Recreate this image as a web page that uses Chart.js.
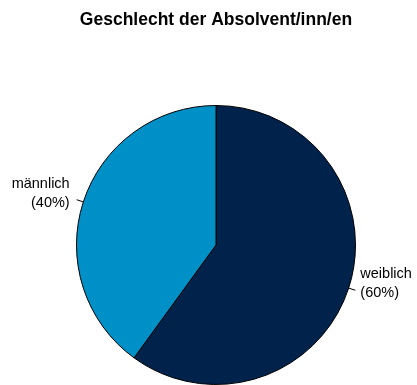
<!DOCTYPE html>
<html>
<head>
<meta charset="utf-8">
<script src="https://cdn.jsdelivr.net/npm/chart.js@4/dist/chart.umd.min.js"></script>
<style>
  html, body { margin: 0; padding: 0; background: #fff; }
  #wrap { width: 417px; height: 385px; }
</style>
</head>
<body>
<div id="wrap"><canvas id="chart"></canvas></div>
<script>
const categories = ['weiblich', 'männlich'];
const shares = [60, 40];
const sliceColors = ['#00224B', '#0090C8'];

// Beschriftung mit kurzer Führungslinie neben jedem Segment
const sliceLabels = {
    id: 'sliceLabels',
    afterDatasetsDraw(chart) {
        const ctx = chart.ctx;
        const meta = chart.getDatasetMeta(0);
        ctx.save();
        ctx.font = '14.5px "Liberation Sans", Arial, sans-serif';
        ctx.fillStyle = '#000';
        ctx.strokeStyle = '#000';
        ctx.lineWidth = 1;
        ctx.textBaseline = 'middle';
        meta.data.forEach((arc, i) => {
            const p = arc.getProps(['x', 'y', 'startAngle', 'endAngle', 'outerRadius'], true);
            const mid = (p.startAngle + p.endAngle) / 2;
            const cos = Math.cos(mid), sin = Math.sin(mid);
            const x0 = p.x + cos * p.outerRadius;
            const y0 = p.y + sin * p.outerRadius;
            const x1 = p.x + cos * (p.outerRadius + 7);
            const y1 = p.y + sin * (p.outerRadius + 7);
            ctx.beginPath();
            ctx.moveTo(x0, y0);
            ctx.lineTo(x1, y1);
            ctx.stroke();
            const right = cos >= 0;
            ctx.textAlign = right ? 'left' : 'right';
            const tx = x1 + (right ? 5 : -7);
            ctx.fillText(categories[i], tx, y1 - 16);
            ctx.fillText('(' + shares[i] + '%)', tx, y1 + 3);
        });
        ctx.restore();
    }
};

const ctx = document.getElementById('chart').getContext('2d');
new Chart(ctx, {
    type: 'pie',
    data: {
        labels: categories,
        datasets: [{
            data: shares,
            backgroundColor: sliceColors,
            borderColor: '#000',
            borderWidth: 1
        }]
    },
    options: {
        responsive: true,
        maintainAspectRatio: false,
        animation: false,
        layout: { padding: { left: 76, right: 61, top: 0, bottom: 0 } },
        plugins: {
            legend: { display: false },
            tooltip: { enabled: false },
            title: {
                display: true,
                text: 'Geschlecht der Absolvent/inn/en',
                color: '#000',
                font: { family: '"Liberation Sans", Arial, sans-serif', size: 17.5, weight: 'bold', lineHeight: 1.2 },
                padding: { top: 10, bottom: 74 }
            }
        }
    },
    plugins: [sliceLabels]
});
</script>
</body>
</html>
